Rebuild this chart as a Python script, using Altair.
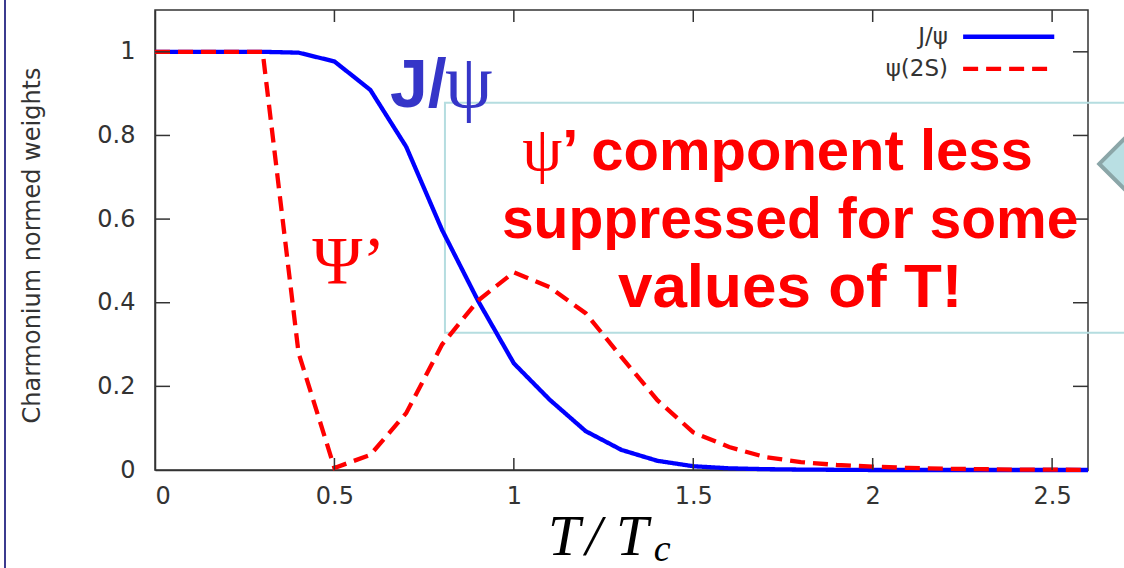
import altair as alt
import pandas as pd

# ---- data ----
T = [0.0, 0.1, 0.2, 0.3, 0.4, 0.5, 0.6, 0.7, 0.8, 0.9, 1.0, 1.1, 1.2, 1.3,
     1.4, 1.5, 1.6, 1.7, 1.8, 1.9, 2.0, 2.1, 2.2, 2.3, 2.4, 2.5, 2.6]
jpsi = [1.0, 1.0, 1.0, 1.0, 0.998, 0.977, 0.909, 0.773, 0.574, 0.405, 0.255,
        0.168, 0.093, 0.048, 0.022, 0.009, 0.004, 0.002, 0.001, 0.0005, 0.0,
        0.0, 0.0, 0.0, 0.0, 0.0, 0.0]
psi2s = [1.0, 1.0, 1.0, 1.0, 0.28, 0.005, 0.036, 0.136, 0.30, 0.405, 0.473,
         0.437, 0.375, 0.27, 0.167, 0.09, 0.055, 0.031, 0.019, 0.012, 0.008,
         0.005, 0.003, 0.002, 0.001, 0.001, 0.0]
series_names = ["J/ψ", "ψ(2S)"]
series_colors = ["#0000ff", "#ff0000"]
x_ticks = [0.5, 1.0, 1.5, 2.0, 2.5]
y_ticks = [0.2, 0.4, 0.6, 0.8, 1.0]
x_labels = [0, 0.5, 1, 1.5, 2, 2.5]
y_labels = [0, 0.2, 0.4, 0.6, 0.8, 1.0]

df = pd.DataFrame({
    "T": T * 2,
    "w": jpsi + psi2s,
    "s": [series_names[0]] * len(T) + [series_names[1]] * len(T),
})

W, H = 933, 460
xs = alt.Scale(domain=[0, 2.6], nice=False, zero=False)
ys = alt.Scale(domain=[0, 1.1], nice=False, zero=False)
cs = alt.Scale(domain=series_names, range=series_colors)
ds = alt.Scale(domain=series_names, range=[[1, 0], [15, 8]])

TICKFONT = "DejaVu Sans"
GREY = "#333333"

lines = alt.Chart(df).mark_line(strokeWidth=4.3, clip=False).encode(
    x=alt.X("T:Q", scale=xs,
            axis=alt.Axis(values=x_labels, format="~g", ticks=False, grid=False,
                          labelFont=TICKFONT, labelFontSize=24, labelColor=GREY,
                          labelPadding=14, domainColor=GREY,
                          domainWidth=1.5, title=None)),
    y=alt.Y("w:Q", scale=ys,
            axis=alt.Axis(values=y_labels, format="~g", ticks=False, grid=False,
                          labelFont=TICKFONT, labelFontSize=24, labelColor=GREY,
                          labelPadding=20, domainColor=GREY, domainWidth=1.5,
                          title="Charmonium normed weights",
                          titleFont=TICKFONT, titleFontSize=24,
                          titleFontWeight="normal", titleColor=GREY,
                          titleAngle=270, titleAlign="center",
                          titleBaseline="middle", titleX=-123, titleY=235)),
    color=alt.Color("s:N", scale=cs, legend=None),
    strokeDash=alt.StrokeDash("s:N", scale=ds, legend=None),
    detail="s:N",
)

# inward ticks on all four sides
xt = alt.Chart(pd.DataFrame({"t": x_ticks}))
yt = alt.Chart(pd.DataFrame({"t": y_ticks}))
tick_style = dict(color=GREY, strokeWidth=1.5)
bot = xt.mark_rule(**tick_style).encode(x=alt.X("t:Q", scale=xs), y=alt.value(H), y2=alt.value(H - 12))
top = xt.mark_rule(**tick_style).encode(x=alt.X("t:Q", scale=xs), y=alt.value(0), y2=alt.value(12))
lft = yt.mark_rule(**tick_style).encode(y=alt.Y("t:Q", scale=ys), x=alt.value(0), x2=alt.value(15))
rgt = yt.mark_rule(**tick_style).encode(y=alt.Y("t:Q", scale=ys), x=alt.value(W), x2=alt.value(W - 15))

# custom legend (label left of sample, as gnuplot)
leg = pd.DataFrame({
    "s": series_names,
    "lx": [2.21, 2.21],
    "x1": [2.252, 2.252],
    "x2": [2.506, 2.486],
    "y": [1.036, 0.959],
})
leg_text = alt.Chart(leg).mark_text(align="right", baseline="middle", font=TICKFONT,
                                    fontSize=23, color=GREY).encode(
    x=alt.X("lx:Q", scale=xs), y=alt.Y("y:Q", scale=ys), text="s:N")
leg_line = alt.Chart(leg).mark_rule(strokeWidth=4.3).encode(
    x=alt.X("x1:Q", scale=xs), x2="x2:Q", y=alt.Y("y:Q", scale=ys),
    color=alt.Color("s:N", scale=cs, legend=None),
    strokeDash=alt.StrokeDash("s:N", scale=ds, legend=None))

# annotation box and slide decorations
box = alt.Chart(pd.DataFrame({"x1": [0.808], "x2": [2.75], "y1": [0.878], "y2": [0.328]})).mark_rect(
    filled=False, stroke="#b5dde0", strokeWidth=2, clip=False).encode(
    x=alt.X("x1:Q", scale=xs), x2="x2:Q", y=alt.Y("y1:Q", scale=ys), y2="y2:Q")
diamond = alt.Chart(pd.DataFrame({"x": [2.715], "y": [0.732]})).mark_point(
    shape="diamond", size=3600, filled=True, fill="#b9dfe3", stroke="#8ba6a8",
    strokeWidth=4, opacity=1, clip=False).encode(
    x=alt.X("x:Q", scale=xs), y=alt.Y("y:Q", scale=ys))
border = alt.Chart(pd.DataFrame({"a": [0]})).mark_rule(color="#3b3b8f", strokeWidth=2).encode(
    x=alt.value(-150), y=alt.value(-10), y2=alt.value(558))

# text annotations
def txt(x, y, s, **kw):
    return alt.Chart(pd.DataFrame({"x": [x], "y": [y], "s": [s]})).mark_text(clip=False, **kw).encode(
        x=alt.X("x:Q", scale=xs), y=alt.Y("y:Q", scale=ys), text="s:N")

RED = "#ff0000"
SANS = "Liberation Sans"
SERIF = "Liberation Serif"
ann = [
    txt(0.655, 0.868, "J/", align="left", baseline="alphabetic", font=SANS,
        fontWeight="bold", fontSize=68, color="#3535c8"),
    txt(0.808, 0.868, "ψ", align="left", baseline="alphabetic", font=SERIF,
        fontSize=76, color="#3535c8"),
    txt(0.54, 0.447, "Ψ’", align="center", baseline="alphabetic", font=SERIF,
        fontSize=68, color=RED),
    txt(1.135, 0.718, "ψ", align="right", baseline="alphabetic", font=SERIF,
        fontSize=64, color=RED),
    txt(1.135, 0.718, "’ component less", align="left", baseline="alphabetic",
        font=SANS, fontWeight="bold", fontSize=58, color=RED),
    txt(1.77, 0.555, "suppressed for some", align="center", baseline="alphabetic",
        font=SANS, fontWeight="bold", fontSize=57, color=RED),
    txt(1.77, 0.390, "values of T!", align="center", baseline="alphabetic",
        font=SANS, fontWeight="bold", fontSize=62, color=RED),
    # x-axis title T/T_c
    txt(1.095, -0.203, "T", align="left", baseline="alphabetic", font=SERIF,
        fontStyle="italic", fontSize=58, color="#000000"),
    txt(1.2, -0.203, "/", align="left", baseline="alphabetic", font=SERIF,
        fontStyle="italic", fontSize=58, color="#000000"),
    txt(1.285, -0.203, "T", align="left", baseline="alphabetic", font=SERIF,
        fontStyle="italic", fontSize=58, color="#000000"),
    txt(1.39, -0.218, "c", align="left", baseline="alphabetic", font=SERIF,
        fontStyle="italic", fontSize=38, color="#000000"),
]

chart = alt.layer(
    box, lines, bot, top, lft, rgt, leg_line, leg_text, diamond, border, *ann
).properties(
    width=W, height=H,
    autosize=alt.AutoSizeParams(type="none"),
    padding={"left": 155, "top": 10, "right": 36, "bottom": 98},
    background="white",
).configure_view(stroke=GREY, strokeWidth=1.5)

chart.save("out.html", embed_options={"renderer": "svg", "actions": False})
